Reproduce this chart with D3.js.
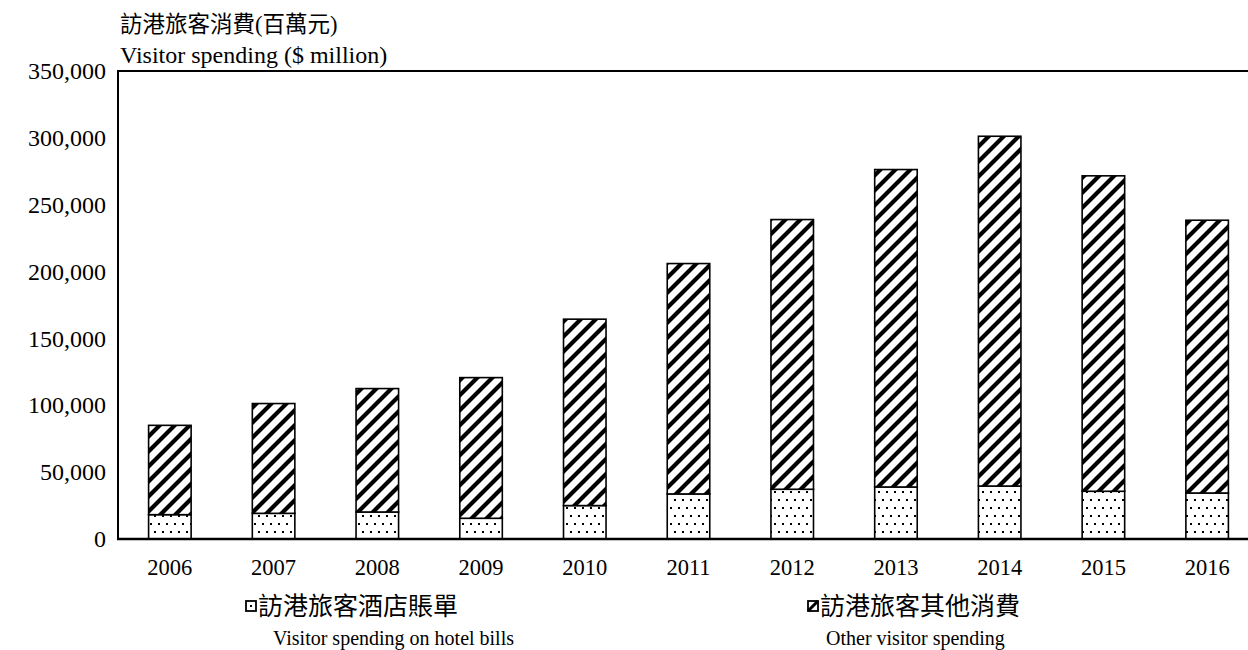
<!DOCTYPE html>
<html>
<head>
<meta charset="utf-8">
<script src="https://cdn.jsdelivr.net/npm/d3@7"></script>
<style>
  html, body { margin: 0; padding: 0; background: #fff; }
  svg { display: block; }
  .serif { font-family: "Liberation Serif", "Times New Roman", serif; fill: #000; }
  .cjk { font-family: "Noto Sans CJK TC", "Noto Sans CJK SC", sans-serif; fill: #000; }
</style>
</head>
<body>
<svg id="chart" width="1248" height="650"></svg>
<script>
// Visitor spending in Hong Kong, $ million
const years = ["2006", "2007", "2008", "2009", "2010", "2011", "2012", "2013", "2014", "2015", "2016"];
const hotelBills = [18200, 19200, 20200, 15500, 25000, 33700, 37200, 38900, 39600, 35700, 34400];
const otherSpending = [66800, 82100, 92300, 105200, 139400, 172300, 201700, 237400, 261600, 235900, 204000];
const yTicks = [0, 50000, 100000, 150000, 200000, 250000, 300000, 350000];

const svg = d3.select("#chart");
const plot = { left: 118, top: 71, right: 1259, bottom: 539 };

const x = d3.scaleBand()
  .domain(years)
  .range([plot.left, plot.right])
  .paddingInner(0.59)
  .paddingOuter(0.295);

const y = d3.scaleLinear()
  .domain([0, 350000])
  .range([plot.bottom, plot.top]);

// Fill patterns
const defs = svg.append("defs");
const dots = defs.append("pattern")
  .attr("id", "dots").attr("patternUnits", "userSpaceOnUse")
  .attr("width", 16).attr("height", 16);
dots.append("rect").attr("width", 16).attr("height", 16).attr("fill", "#fff");
[[2, 3], [10, 3], [6, 11], [14, 11]].forEach(([cx, cy]) =>
  dots.append("rect").attr("x", cx).attr("y", cy).attr("width", 2).attr("height", 2).attr("fill", "#000"));

const hatch = defs.append("pattern")
  .attr("id", "hatch").attr("patternUnits", "userSpaceOnUse")
  .attr("width", 15).attr("height", 15);
hatch.append("rect").attr("width", 15).attr("height", 15).attr("fill", "#fff");
hatch.append("path")
  .attr("d", "M-4,19 L19,-4 M-4,4 L4,-4 M11,19 L19,11")
  .attr("stroke", "#000").attr("stroke-width", 4.2).attr("fill", "none");

// Stacked series
const rows = years.map((yr, i) => ({ year: yr, hotel: hotelBills[i], other: otherSpending[i] }));
const stack = d3.stack().keys(["hotel", "other"])(rows);
const fills = { hotel: "url(#dots)", other: "url(#hatch)" };

svg.append("g").selectAll("g")
  .data(stack)
  .join("g")
  .attr("fill", d => fills[d.key])
  .selectAll("rect")
  .data(d => d)
  .join("rect")
  .attr("x", d => x(d.data.year))
  .attr("width", x.bandwidth())
  .attr("y", d => y(d[1]))
  .attr("height", d => y(d[0]) - y(d[1]))
  .attr("stroke", "#000")
  .attr("stroke-width", 1.6);

// Frame: left axis line, top border, baseline
svg.append("line").attr("x1", plot.left).attr("x2", plot.left)
  .attr("y1", plot.top).attr("y2", plot.bottom)
  .attr("stroke", "#000").attr("stroke-width", 2);
svg.append("line").attr("x1", plot.left - 1).attr("x2", 1248)
  .attr("y1", plot.top).attr("y2", plot.top)
  .attr("stroke", "#000").attr("stroke-width", 2);
svg.append("line").attr("x1", plot.left - 1).attr("x2", 1248)
  .attr("y1", plot.bottom).attr("y2", plot.bottom)
  .attr("stroke", "#000").attr("stroke-width", 2.5);

// Y axis labels
const yAxis = d3.axisLeft(y).tickValues(yTicks).tickSize(0).tickPadding(12)
  .tickFormat(d3.format(","));
const gy = svg.append("g").attr("transform", `translate(${plot.left},0)`).call(yAxis);
gy.select(".domain").remove();
gy.selectAll("text").attr("class", "serif").attr("font-size", 24);

// X axis labels
const xAxis = d3.axisBottom(x).tickSize(0).tickPadding(20);
const gx = svg.append("g").attr("transform", `translate(0,${plot.bottom})`).call(xAxis);
gx.select(".domain").remove();
gx.selectAll("text").attr("class", "serif").attr("font-size", 22.5);

// Axis title
const title = svg.append("text").attr("x", 120).attr("y", 32);
title.append("tspan").attr("class", "cjk").attr("font-size", 22.5).text("訪港旅客消費");
title.append("tspan").attr("class", "serif").attr("font-size", 22.5).text("(");
title.append("tspan").attr("class", "cjk").attr("font-size", 22.5).text("百萬元");
title.append("tspan").attr("class", "serif").attr("font-size", 22.5).text(")");
svg.append("text").attr("class", "serif").attr("x", 120).attr("y", 63)
  .attr("font-size", 24).text("Visitor spending ($ million)");

// Legend
const legend = [
  { key: "hotel", zh: "訪港旅客酒店賬單", en: "Visitor spending on hotel bills", mx: 246, tx: 258, ex: 273 },
  { key: "other", zh: "訪港旅客其他消費", en: "Other visitor spending", mx: 808, tx: 820, ex: 826 }
];
const lg = svg.append("g").selectAll("g").data(legend).join("g");
lg.append("rect")
  .attr("x", d => d.mx).attr("y", 601).attr("width", 10).attr("height", 10)
  .attr("fill", "#fff").attr("stroke", "#000").attr("stroke-width", 1.8);
lg.filter(d => d.key === "hotel").append("rect")
  .attr("x", d => d.mx + 4).attr("y", 605).attr("width", 2).attr("height", 2).attr("fill", "#000");
lg.filter(d => d.key === "other").append("path")
  .attr("d", d => `M${d.mx},${611} L${d.mx + 10},${601}`)
  .attr("stroke", "#000").attr("stroke-width", 3);
lg.append("text").attr("class", "cjk").attr("x", d => d.tx).attr("y", 615)
  .attr("font-size", 25).text(d => d.zh);
lg.append("text").attr("class", "serif").attr("x", d => d.ex).attr("y", 645)
  .attr("font-size", 20).text(d => d.en);
</script>
</body>
</html>
